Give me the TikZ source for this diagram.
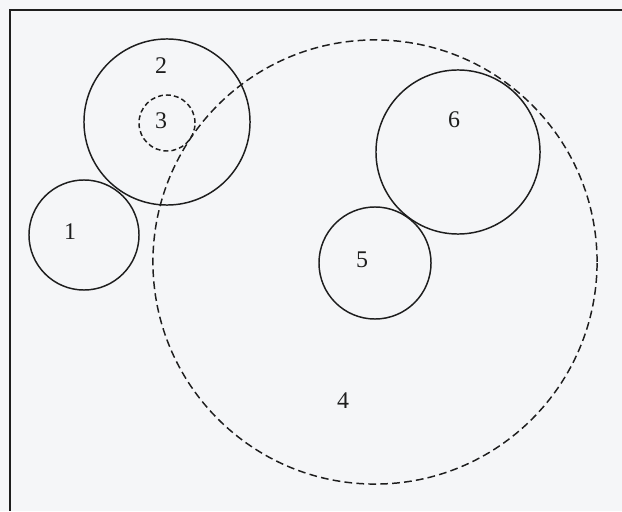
\documentclass[tikz,border=0pt]{standalone}
\usepackage{fontspec}
\setmainfont{Liberation Serif}
\usepackage{tikz}
\usetikzlibrary{positioning}
\definecolor{paper}{HTML}{F5F6F8}
\definecolor{ink}{HTML}{1E1E1E}
\tikzset{
  ring/.style={
    circle, draw=ink, line width=1.05pt,
    inner sep=0pt, minimum size=#1*0.05cm
  },
  dashring/.style={
    ring=#1, dash pattern=on 5.5pt off 3pt
  },
  smalldash/.style={
    ring=#1, dash pattern=on 3.5pt off 2.2pt
  },
  numlabel/.style={
    font=\fontsize{17}{19}\selectfont, text=ink, inner sep=0pt
  },
  frameline/.style={
    draw=ink, line width=1.1pt
  },
}
\begin{document}
\begin{tikzpicture}[x=0.025cm, y=-0.025cm]
  \fill[paper] (0,0) rectangle (622,511);
  \useasboundingbox (0,0) rectangle (622,511);

  % frame (top and left edges only)
  \coordinate (tl) at (10,10);
  \coordinate (tr) at (622,10);
  \coordinate (bl) at (10,511);
  \draw[frameline] (tr) -- (tl) -- (bl);

  % circles
  \node[dashring=222] (c4) at (375,262) {};
  \node[ring=83] (c2) at (167,122) {};
  \node[smalldash=28] (c3) at (167,123) {};
  \node[ring=55] (c1) at (84,235) {};
  \node[ring=82] (c6) at (458,152) {};
  \node[ring=56] (c5) at (375,263) {};

  % numbers
  \node[numlabel] (n1) at (70,232) {1};
  \node[numlabel] (n2) at (161,66) {2};
  \node[numlabel] (n3) at (161,121) {3};
  \node[numlabel] (n4) at (343,401) {4};
  \node[numlabel] (n5) at (362,260) {5};
  \node[numlabel] (n6) at (454,120) {6};
\end{tikzpicture}
\end{document}
